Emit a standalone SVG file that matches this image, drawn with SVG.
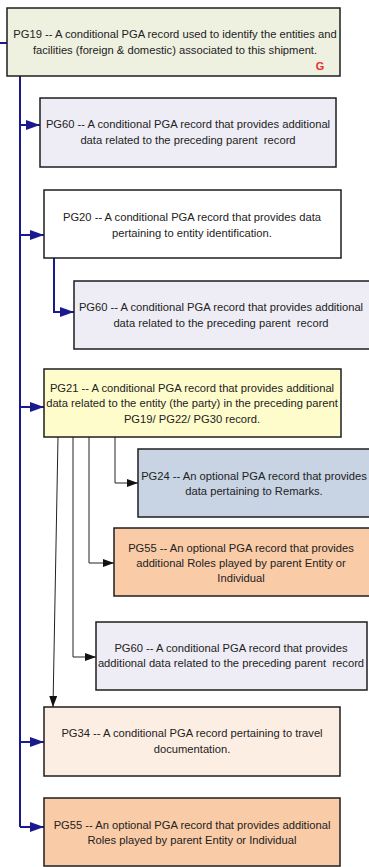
<svg xmlns="http://www.w3.org/2000/svg" width="369" height="867" viewBox="0 0 369 867">
<defs>
<style>
.box{stroke:#1e1e1e;stroke-width:1.5}
.t{font-family:"Liberation Sans",Arial,sans-serif;font-size:11.2px;fill:#222;text-anchor:middle;white-space:pre}
.blue{stroke:#1a1a8e;stroke-width:2;fill:none}
.blk{stroke:#222;stroke-width:1;fill:none}
</style>
<marker id="ab" viewBox="0 0 14 10" refX="14" refY="5" markerWidth="14" markerHeight="10" markerUnits="userSpaceOnUse" orient="auto">
<path d="M0,0 L14,5 L0,10 Z" fill="#1a1a8e"/>
</marker>
<marker id="ak" viewBox="0 0 11 8" refX="11" refY="4" markerWidth="11" markerHeight="8" markerUnits="userSpaceOnUse" orient="auto">
<path d="M0,0 L11,4 L0,8 Z" fill="#111"/>
</marker>
</defs>
<rect width="369" height="867" fill="#fff"/>
<g id="connectors">
<line class="blue" x1="0" y1="43" x2="7" y2="43"/>
<line class="blue" x1="20" y1="76" x2="20" y2="827"/>
<path class="blue" d="M20,125 H40" marker-end="url(#ab)"/>
<path class="blue" d="M20,235 H44" marker-end="url(#ab)"/>
<path class="blue" d="M20,407 H44" marker-end="url(#ab)"/>
<path class="blue" d="M20,742 H44" marker-end="url(#ab)"/>
<path class="blue" d="M20,827 H44" marker-end="url(#ab)"/>
<path class="blue" d="M54,258 V312 H74" marker-end="url(#ab)"/>
<path class="blk" d="M115,437 V483 H138" marker-end="url(#ak)"/>
<path class="blk" d="M89,437 V563 H114" marker-end="url(#ak)"/>
<path class="blk" d="M73,437 V657 H96" marker-end="url(#ak)"/>
<path class="blk" d="M58,437 L53,707" marker-end="url(#ak)"/>
</g>
<g id="pg19">
<rect class="box" x="7" y="8" width="333" height="68" fill="#eef0e0"/>
<text class="t" x="175" y="38">PG19 -- A conditional PGA record used to identify the entities and</text>
<text class="t" x="175" y="54">facilities (foreign &amp; domestic) associated to this shipment.</text>
<text x="320" y="70" font-family="Liberation Sans,Arial,sans-serif" font-size="11" font-weight="bold" fill="#e8302a" text-anchor="middle">G</text>
</g>
<g id="pg60a">
<rect class="box" x="40" y="98" width="296" height="69" fill="#eeedf5"/>
<text class="t" x="188" y="128">PG60 -- A conditional PGA record that provides additional</text>
<text class="t" x="188" y="144">data related to the preceding parent  record</text>
</g>
<g id="pg20">
<rect class="box" x="44" y="190" width="297" height="68" fill="#fff"/>
<text class="t" x="192" y="221">PG20 -- A conditional PGA record that provides data</text>
<text class="t" x="192" y="237">pertaining to entity identification.</text>
</g>
<g id="pg60b">
<rect class="box" x="74" y="281" width="296" height="68" fill="#eeedf5"/>
<text class="t" x="221" y="311">PG60 -- A conditional PGA record that provides additional</text>
<text class="t" x="221" y="327">data related to the preceding parent  record</text>
</g>
<g id="pg21">
<rect class="box" x="44" y="369" width="297" height="68" fill="#fffccc"/>
<text class="t" x="192" y="392">PG21 -- A conditional PGA record that provides additional</text>
<text class="t" x="192" y="407">data related to the entity (the party) in the preceding parent</text>
<text class="t" x="192" y="423">PG19/ PG22/ PG30 record.</text>
</g>
<g id="pg24">
<rect class="box" x="138" y="449" width="232" height="68" fill="#c8d4e4"/>
<text class="t" x="254" y="480">PG24 -- An optional PGA record that provides</text>
<text class="t" x="254" y="495">data pertaining to Remarks.</text>
</g>
<g id="pg55a">
<rect class="box" x="114" y="528" width="256" height="68" fill="#f9cba6"/>
<text class="t" x="241" y="552">PG55 -- An optional PGA record that provides</text>
<text class="t" x="241" y="567">additional Roles played by parent Entity or</text>
<text class="t" x="241" y="582">Individual</text>
</g>
<g id="pg60c">
<rect class="box" x="96" y="622" width="271" height="68" fill="#eeedf5"/>
<text class="t" x="231" y="652">PG60 -- A conditional PGA record that provides</text>
<text class="t" x="231" y="667">additional data related to the preceding parent  record</text>
</g>
<g id="pg34">
<rect class="box" x="44" y="707" width="296" height="69" fill="#fdeee4"/>
<text class="t" x="192" y="737">PG34 -- A conditional PGA record pertaining to travel</text>
<text class="t" x="192" y="753">documentation.</text>
</g>
<g id="pg55b">
<rect class="box" x="44" y="798" width="296" height="68" fill="#f9cba6"/>
<text class="t" x="192" y="829">PG55 -- An optional PGA record that provides additional</text>
<text class="t" x="192" y="844">Roles played by parent Entity or Individual</text>
</g>
</svg>
